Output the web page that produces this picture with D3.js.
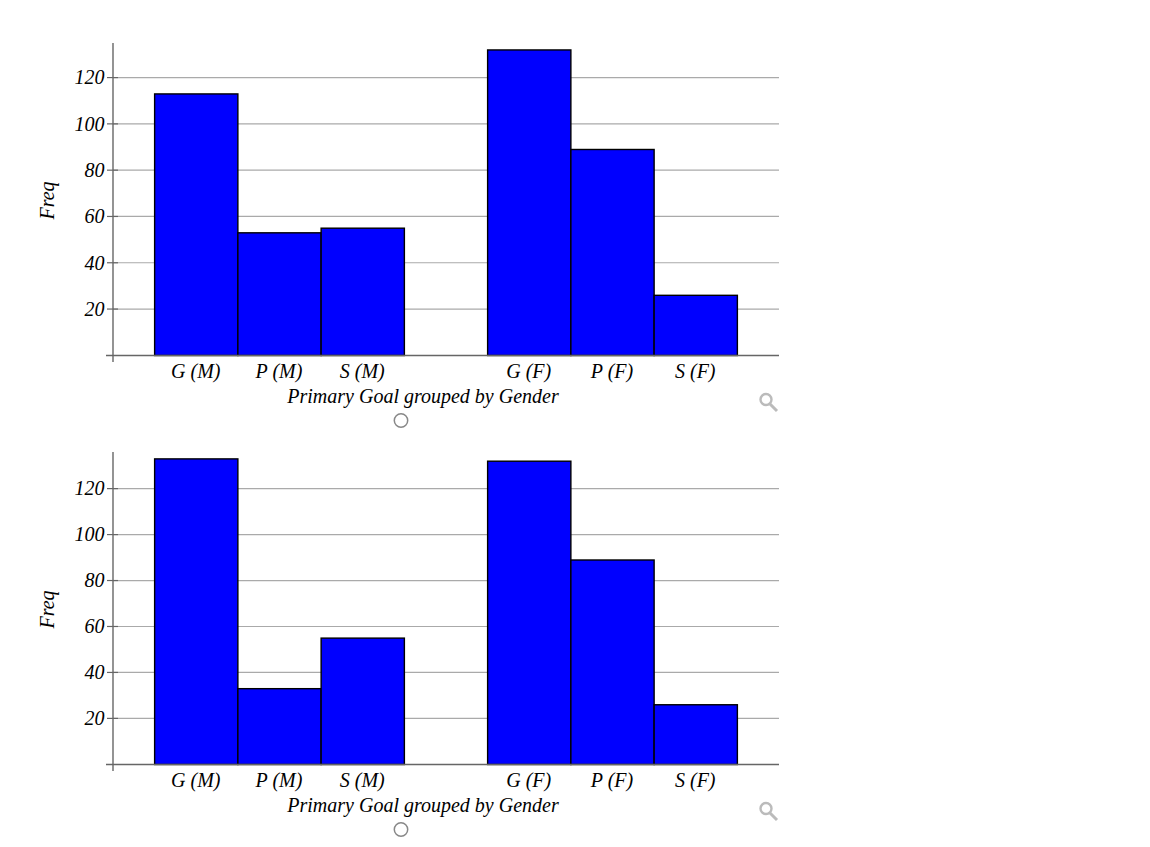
<!DOCTYPE html>
<html><head><meta charset="utf-8">
<script src="https://cdn.jsdelivr.net/npm/d3@7"></script>
<style>html,body{margin:0;background:#fff}svg{display:block}
text{font-family:"Liberation Serif",serif;font-style:italic;font-size:20px;fill:#000}</style>
</head><body><svg id="c" width="1150" height="847"></svg>
<script>
const categories = ["G (M)","P (M)","S (M)"," ","G (F)","P (F)","S (F)"];
const valuesTop = [113,53,55,null,132,89,26];
const valuesBottom = [133,33,55,null,132,89,26];
const yTicks = [20,40,60,80,100,120];
const xTitle = "Primary Goal grouped by Gender";
const yTitle = "Freq";
const panels = [
  {values:valuesTop, yMax:135, y0:355.5, y1:43},
  {values:valuesBottom, yMax:136, y0:764.5, y1:452}
];
const svg = d3.select("#c");
const x = d3.scaleBand().domain(categories).range([113,779]).paddingInner(0).paddingOuter(0.5);
panels.forEach(p=>{
  const y = d3.scaleLinear().domain([0,p.yMax]).range([p.y0,p.y1]);
  const g = svg.append("g");
  const gy = d => y(d)-0.15;
  // gridlines
  g.append("g").selectAll("line").data(yTicks).join("line")
    .attr("x1",113).attr("x2",779)
    .attr("y1",gy).attr("y2",gy)
    .attr("stroke","#aaa").attr("stroke-width",1.2);
  // bars
  g.append("g").selectAll("rect").data(categories.map((c,i)=>({c,v:p.values[i]})).filter(d=>d.v!==null)).join("rect")
    .attr("x",d=>x(d.c)).attr("width",x.bandwidth())
    .attr("y",d=>y(d.v)).attr("height",d=>y(0)-y(d.v))
    .attr("fill","#0000ff").attr("stroke","#000").attr("stroke-width",1.4);
  // axes
  g.append("line").attr("x1",106).attr("x2",779).attr("y1",p.y0).attr("y2",p.y0).attr("stroke","#666").attr("stroke-width",1.4);
  g.append("line").attr("x1",113).attr("x2",113).attr("y1",p.y1).attr("y2",p.y0+6.5).attr("stroke","#666").attr("stroke-width",1.4);
  g.append("g").selectAll("line").data(yTicks).join("line")
    .attr("x1",107).attr("x2",118)
    .attr("y1",gy).attr("y2",gy)
    .attr("stroke","#666").attr("stroke-width",1.2);
  // tick labels
  g.append("g").selectAll("text").data(yTicks).join("text")
    .attr("x",104.5).attr("y",d=>y(d)+6.6).attr("text-anchor","end").text(d=>d);
  g.append("g").selectAll("text").data(categories.filter(c=>c.trim())).join("text")
    .attr("x",c=>x(c)+x.bandwidth()/2-0.5).attr("y",p.y0+22).attr("text-anchor","middle").text(c=>c);
  g.append("text").attr("x",423).attr("y",p.y0+47).attr("text-anchor","middle").text(xTitle);
  g.append("text").attr("transform",`translate(53.5,${p.y0-155}) rotate(-90)`).attr("text-anchor","middle").text(yTitle);
  // radio
  g.append("circle").attr("cx",401).attr("cy",p.y0+65).attr("r",6.7).attr("fill","#fff").attr("stroke","#888").attr("stroke-width",1.5);
  // magnifier
  const m = g.append("g").attr("fill","none").attr("stroke","#bbb");
  m.append("circle").attr("cx",766).attr("cy",p.y0+44).attr("r",5.5).attr("stroke-width",2.4);
  m.append("line").attr("x1",770).attr("y1",p.y0+48.5).attr("x2",777).attr("y2",p.y0+55.5).attr("stroke-width",3);
});
</script></body></html>
